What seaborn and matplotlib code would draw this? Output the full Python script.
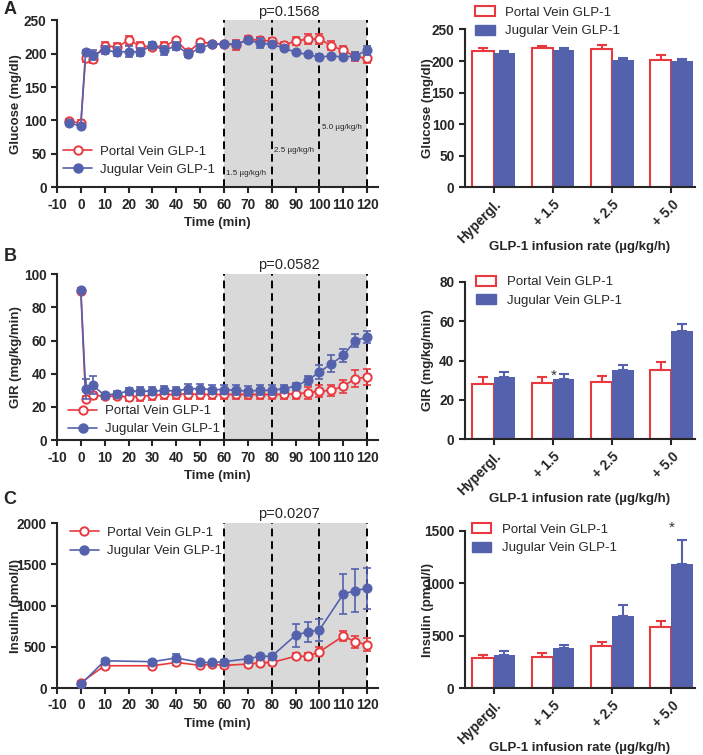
import numpy as np
import pandas as pd
import matplotlib
matplotlib.use("Agg")
import matplotlib.pyplot as plt
import seaborn as sns
from matplotlib.patches import Patch
from matplotlib.lines import Line2D

RED = "#E8393F"
BLUE = "#5461AD"
SHADE = "#D9D9D9"
PORTAL = "Portal Vein GLP-1"
JUGULAR = "Jugular Vein GLP-1"

# --- time courses -------------------------------------------------------
glc_time = [-5, 0, 2, 5, 10, 15, 20, 25, 30, 35, 40, 45, 50, 55, 60, 65, 70,
            75, 80, 85, 90, 95, 100, 105, 110, 115, 120]
glc_portal = [99, 96, 194, 192, 212, 210, 220, 212, 210, 212, 220, 202, 218, 215,
              215, 213, 222, 220, 219, 213, 219, 222, 222, 212, 205, 196, 193]
glc_portal_err = [3, 4, 6, 6, 5, 6, 7, 6, 5, 5, 3, 4, 3, 2, 3, 7, 5, 5, 4, 5,
                  6, 7, 7, 7, 6, 7, 7]
glc_jugular = [96, 92, 203, 198, 205, 203, 203, 203, 213, 205, 212, 200, 208, 215,
               214, 215, 220, 216, 214, 209, 202, 199, 195, 197, 195, 197, 205]
glc_jugular_err = [2, 3, 2, 7, 6, 7, 8, 6, 4, 7, 6, 5, 6, 3, 3, 4, 4, 7, 4, 3,
                   2, 2, 4, 2, 2, 6, 7]

gir_time = [0, 2, 5, 10, 15, 20, 25, 30, 35, 40, 45, 50, 55, 60, 65, 70, 75,
            80, 85, 90, 95, 100, 105, 110, 115, 120]
gir_portal = [90, 25, 27, 26.5, 26.5, 26, 26.5, 27, 27.5, 27.5, 28, 27.5, 27.5,
              27.5, 27.5, 27.5, 27.5, 27.5, 27.5, 28, 28.5, 29.5, 30, 32.5, 37, 38]
gir_portal_err = [1, 1.5, 2, 1.5, 2, 2.5, 3, 3, 3, 3, 3, 3, 3, 3, 3, 3, 3, 3, 3,
                  3, 3.5, 3.5, 3.5, 4, 5, 5]
gir_jugular = [90.5, 31, 33, 27, 28, 29.5, 29.5, 29.5, 30, 29.5, 31, 31, 30.5,
               30.5, 30, 29.5, 30, 30, 31, 32.5, 36, 41, 46, 51, 60, 62]
gir_jugular_err = [1, 6, 5.5, 1.5, 1.5, 2, 2.5, 2.5, 2.5, 2.5, 3, 3, 3, 3, 3, 3,
                   3, 3, 2, 2, 2.5, 4, 5, 4, 4, 3.5]

ins_time = [0, 10, 30, 40, 50, 55, 60, 70, 75, 80, 90, 95, 100, 110, 115, 120]
ins_portal = [65, 270, 270, 310, 275, 290, 275, 290, 305, 310, 385, 385, 440,
              630, 560, 525]
ins_portal_err = [15, 20, 20, 25, 25, 25, 30, 35, 30, 25, 35, 40, 55, 65, 75, 80]
ins_jugular = [45, 330, 320, 365, 310, 310, 320, 355, 385, 385, 640, 680, 705,
               1140, 1180, 1210]
ins_jugular_err = [15, 20, 20, 45, 20, 20, 25, 25, 25, 30, 140, 120, 130, 240,
                   260, 250]

# --- bar summaries ------------------------------------------------------
bar_groups = ["Hypergl.", "+ 1.5", "+ 2.5", "+ 5.0"]
glc_bar_portal = [216, 220, 219, 202]
glc_bar_portal_err = [4, 4, 6, 7]
glc_bar_jugular = [213, 217, 202, 200]
glc_bar_jugular_err = [3, 3, 3, 3]

gir_bar_portal = [28, 28.5, 29, 35]
gir_bar_portal_err = [3.5, 3, 3, 4]
gir_bar_jugular = [31.5, 30.5, 35, 55]
gir_bar_jugular_err = [2.5, 2.5, 2.5, 3.5]

ins_bar_portal = [285, 300, 400, 580]
ins_bar_portal_err = [35, 35, 40, 65]
ins_bar_jugular = [320, 385, 685, 1180]
ins_bar_jugular_err = [30, 25, 110, 230]

sns.set_style("ticks")
plt.rcParams["font.family"] = ["Liberation Sans", "DejaVu Sans"]
plt.rcParams["axes.unicode_minus"] = False
plt.rcParams["axes.linewidth"] = 1.5
plt.rcParams["xtick.major.width"] = 1.5
plt.rcParams["ytick.major.width"] = 1.5
plt.rcParams["xtick.major.size"] = 4
plt.rcParams["ytick.major.size"] = 4

fig = plt.figure(figsize=(7.03, 7.55), dpi=100)


def style_axes(ax, ylabel, xlabel, ylab_x, xpad):
    sns.despine(ax=ax)
    ax.set_ylabel(ylabel, fontsize=9.5, fontweight="bold")
    ax.yaxis.set_label_coords(ylab_x, 0.5)
    ax.set_xlabel(xlabel, fontsize=9.5, fontweight="bold", labelpad=xpad)
    for lab in ax.get_xticklabels() + ax.get_yticklabels():
        lab.set_fontweight("bold")
        lab.set_fontsize(9.8)


def time_panel(ax, t, p, pe, j, je, ymax, ystep, ylabel, pval, leg_xy, doses=False):
    ax.axvspan(60, 120, color=SHADE, lw=0, zorder=0)
    for xv in [60, 80, 100, 120]:
        ax.axvline(xv, color="black", ls=(0, (4, 2.5)), lw=1.4, zorder=1)
    ax.errorbar(t, p, yerr=pe, fmt="none", ecolor=RED, elinewidth=1.2,
                capsize=2.8, capthick=1.2, zorder=3)
    sns.lineplot(x=t, y=p, ax=ax, color=RED, lw=1.2, marker="o", markersize=6,
                 markerfacecolor="white", markeredgecolor=RED,
                 markeredgewidth=1.4, zorder=4)
    ax.errorbar(t, j, yerr=je, fmt="none", ecolor=BLUE, elinewidth=1.2,
                capsize=2.8, capthick=1.2, zorder=5)
    sns.lineplot(x=t, y=j, ax=ax, color=BLUE, lw=1.2, marker="o", markersize=6.5,
                 markerfacecolor=BLUE, markeredgecolor=BLUE, zorder=6)
    ax.set_xlim(-10, 124.5)
    ax.set_ylim(0, ymax)
    ax.set_xticks(np.arange(-10, 121, 10))
    ax.set_yticks(np.arange(0, ymax + 1, ystep))
    ax.text(87, ymax * 1.01, pval, ha="center", va="bottom", fontsize=10.5)
    if doses:
        ax.text(61, ymax * 0.085, "1.5 µg/kg/h", fontsize=5.8, va="center")
        ax.text(81, ymax * 0.22, "2.5 µg/kg/h", fontsize=5.8, va="center")
        ax.text(101, ymax * 0.36, "5.0 µg/kg/h", fontsize=5.8, va="center")
    handles = [
        Line2D([], [], color=RED, lw=1.2, marker="o", markersize=6,
               markerfacecolor="white", markeredgecolor=RED, markeredgewidth=1.4),
        Line2D([], [], color=BLUE, lw=1.2, marker="o", markersize=6.5),
    ]
    ax.legend(handles, [PORTAL, JUGULAR], loc="center left", bbox_to_anchor=leg_xy,
              frameon=False, fontsize=9.5, borderpad=0, borderaxespad=0,
              handlelength=2.2, handletextpad=0.6, labelspacing=0.45)
    style_axes(ax, ylabel, "Time (min)", -0.11, 4)


def bar_panel(ax, p, pe, j, je, ymax, ystep, ylabel, leg_xy, star=None):
    df = pd.DataFrame({
        "group": bar_groups * 2,
        "route": [PORTAL] * len(bar_groups) + [JUGULAR] * len(bar_groups),
        "value": list(p) + list(j),
    })
    sns.barplot(data=df, x="group", y="value", hue="route", palette=[RED, BLUE],
                width=0.72, errorbar=None, saturation=1, legend=False, ax=ax)
    for cont, err, col in zip(ax.containers, [pe, je], [RED, BLUE]):
        xs, hs = [], []
        for bar in cont:
            if col == RED:
                bar.set_facecolor("white")
                bar.set_edgecolor(RED)
                bar.set_linewidth(1.5)
            else:
                bar.set_edgecolor(BLUE)
                bar.set_linewidth(0)
            xs.append(bar.get_x() + bar.get_width() / 2)
            hs.append(bar.get_height())
        ax.errorbar(xs, hs, yerr=[np.zeros(len(err)), err], fmt="none",
                    ecolor=col, elinewidth=1.5, capsize=3.6, capthick=1.5,
                    zorder=0.5)
    ax.set_xlim(-0.49, 3.39)
    ax.set_ylim(0, ymax)
    ax.set_yticks(np.arange(0, ymax + 1, ystep))
    ax.set_xticks(range(len(bar_groups)))
    ax.set_xticklabels(bar_groups, rotation=45, ha="right", rotation_mode="anchor")
    if star is not None:
        ax.text(star[0], star[1], "*", ha="center", va="center", fontsize=11,
                clip_on=False, color="#333333")
    handles = [Patch(facecolor="white", edgecolor=RED, lw=1.5),
               Patch(facecolor=BLUE, edgecolor=BLUE)]
    ax.legend(handles, [PORTAL, JUGULAR], loc="center left", bbox_to_anchor=leg_xy,
              frameon=False, fontsize=9.5, borderpad=0, borderaxespad=0,
              handlelength=1.5, handleheight=0.8, handletextpad=0.8,
              labelspacing=0.45)
    style_axes(ax, ylabel, "GLP-1 infusion rate (µg/kg/h)", -0.135, -3.5)


axA = fig.add_axes([0.081, 0.752, 0.4566, 0.221])
axA2 = fig.add_axes([0.661, 0.752, 0.327, 0.209])
axB = fig.add_axes([0.081, 0.417, 0.4566, 0.220])
axB2 = fig.add_axes([0.661, 0.4185, 0.327, 0.208])
axC = fig.add_axes([0.081, 0.0887, 0.4566, 0.2185])
axC2 = fig.add_axes([0.661, 0.0887, 0.327, 0.208])

time_panel(axA, glc_time, glc_portal, glc_portal_err, glc_jugular, glc_jugular_err,
           250, 50, "Glucose (mg/dl)", "p=0.1568", (0.02, 0.16), doses=True)
time_panel(axB, gir_time, gir_portal, gir_portal_err, gir_jugular, gir_jugular_err,
           100, 20, "GIR (mg/kg/min)", "p=0.0582", (0.035, 0.12))
time_panel(axC, ins_time, ins_portal, ins_portal_err, ins_jugular, ins_jugular_err,
           2000, 500, "Insulin (pmol/l)", "p=0.0207", (0.04, 0.885))

bar_panel(axA2, glc_bar_portal, glc_bar_portal_err, glc_bar_jugular,
          glc_bar_jugular_err, 250, 50, "Glucose (mg/dl)", (0.045, 1.05))
bar_panel(axB2, gir_bar_portal, gir_bar_portal_err, gir_bar_jugular,
          gir_bar_jugular_err, 80, 20, "GIR (mg/kg/min)", (0.05, 0.94),
          star=(1.02, 32))
bar_panel(axC2, ins_bar_portal, ins_bar_portal_err, ins_bar_jugular,
          ins_bar_jugular_err, 1500, 500, "Insulin (pmol/l)", (0.03, 0.95),
          star=(3.0, 1530))

for letter, y in [("A", 0.987), ("B", 0.66), ("C", 0.338)]:
    fig.text(0.005, y, letter, fontsize=13, fontweight="bold", va="center")

fig.savefig("out.png", dpi=100)
